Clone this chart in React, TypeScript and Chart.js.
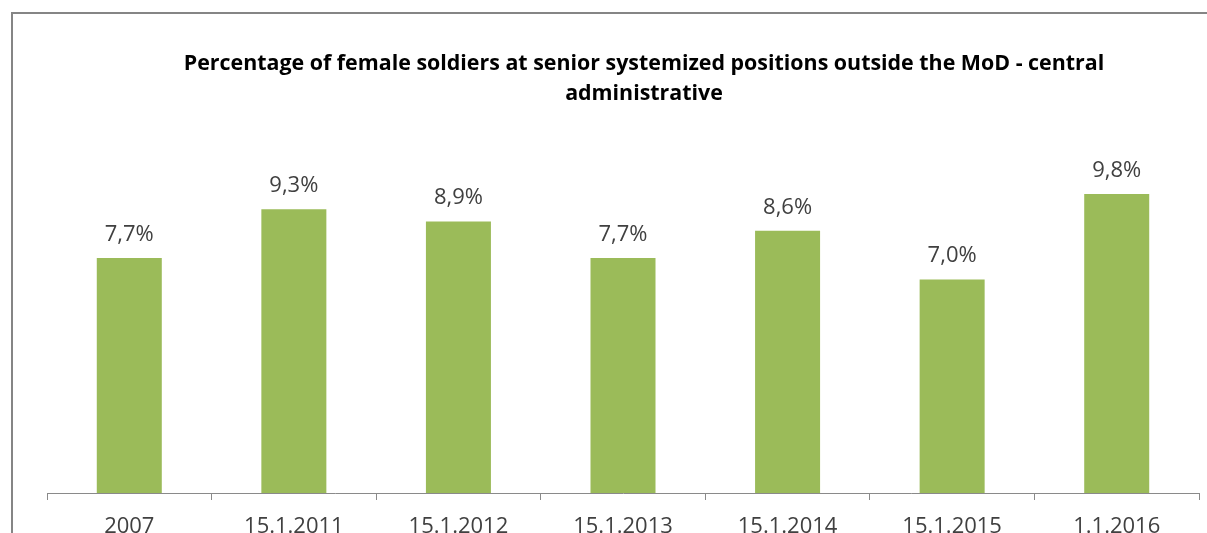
import React, { useEffect, useRef } from "react";
import { Chart, registerables } from "chart.js";

Chart.register(...registerables);

const categories = ["2007", "15.1.2011", "15.1.2012", "15.1.2013", "15.1.2014", "15.1.2015", "1.1.2016"];
const values = [7.7, 9.3, 8.9, 7.7, 8.6, 7.0, 9.8];
const titleLines = [
  "Percentage of female soldiers at senior systemized positions outside the MoD - central",
  "administrative",
];
const yMax = 12;

const W = 1262;
const H = 560;
const BAR_COLOR = "#9BBB59";
const TEXT_COLOR = "#404040";

const labelPlugin = {
  id: "barLabels",
  afterDatasetsDraw(chart: any) {
    const ctx = chart.ctx;
    const meta = chart.getDatasetMeta(0);
    ctx.save();
    ctx.font = '22px "Open Sans"';
    ctx.fillStyle = TEXT_COLOR;
    ctx.textAlign = "center";
    ctx.textBaseline = "alphabetic";
    meta.data.forEach((bar: any, i: number) => {
      const txt = values[i].toFixed(1).replace(".", ",") + "%";
      ctx.fillText(txt, bar.x, bar.y - 17);
    });
    ctx.restore();
  },
};

const hiddenAxis = (width: number, position: "left" | "right") => ({
  type: "linear" as const,
  position,
  display: true,
  min: 0,
  max: yMax,
  grid: { display: false },
  border: { display: false },
  ticks: { display: false },
  afterFit: (scale: any) => {
    scale.width = width;
  },
});

export default function App() {
  const ref = useRef<HTMLCanvasElement>(null);
  useEffect(() => {
    if (!ref.current) return;
    const chart = new Chart(ref.current, {
      type: "bar",
      data: {
        labels: categories,
        datasets: [
          {
            data: values,
            backgroundColor: BAR_COLOR,
            borderWidth: 0,
            categoryPercentage: 1,
            barPercentage: 0.395,
            yAxisID: "y",
          },
        ],
      },
      options: {
        animation: false,
        responsive: false,
        devicePixelRatio: 1,
        layout: { padding: 0 },
        plugins: {
          legend: { display: false },
          tooltip: { enabled: false },
          title: {
            display: true,
            text: titleLines,
            color: "#000000",
            font: { family: '"Open Sans"', size: 21.4, weight: "bold", lineHeight: 1.4 },
            padding: { top: 35, bottom: 18 },
          },
        },
        scales: {
          x: {
            grid: {
              display: true,
              drawOnChartArea: false,
              drawTicks: true,
              tickLength: 7,
              color: "#8a8a8a",
              offset: true,
            },
            border: { display: true, color: "#8a8a8a", width: 1 },
            ticks: {
              color: TEXT_COLOR,
              font: { family: '"Open Sans"', size: 22 },
              padding: 14,
              maxRotation: 0,
              autoSkip: false,
            },
            afterFit: (scale: any) => {
              scale.height = 81;
            },
          },
          y: hiddenAxis(34, "left"),
          yRight: hiddenAxis(76, "right"),
        },
      },
      plugins: [labelPlugin],
    });
    return () => chart.destroy();
  }, []);

  return (
    <div style={{ position: "fixed", left: 0, top: 0, width: "100vw", height: "100vh", overflow: "hidden", background: "#ffffff" }}>
      <div
        style={{
          position: "absolute",
          left: 11,
          top: 12,
          width: W,
          height: H,
          borderLeft: "2px solid #858585",
          borderTop: "2px solid #858585",
          background: "#ffffff",
        }}
      >
        <canvas ref={ref} width={W} height={H} style={{ display: "block", width: W, height: H }} />
      </div>
    </div>
  );
}
